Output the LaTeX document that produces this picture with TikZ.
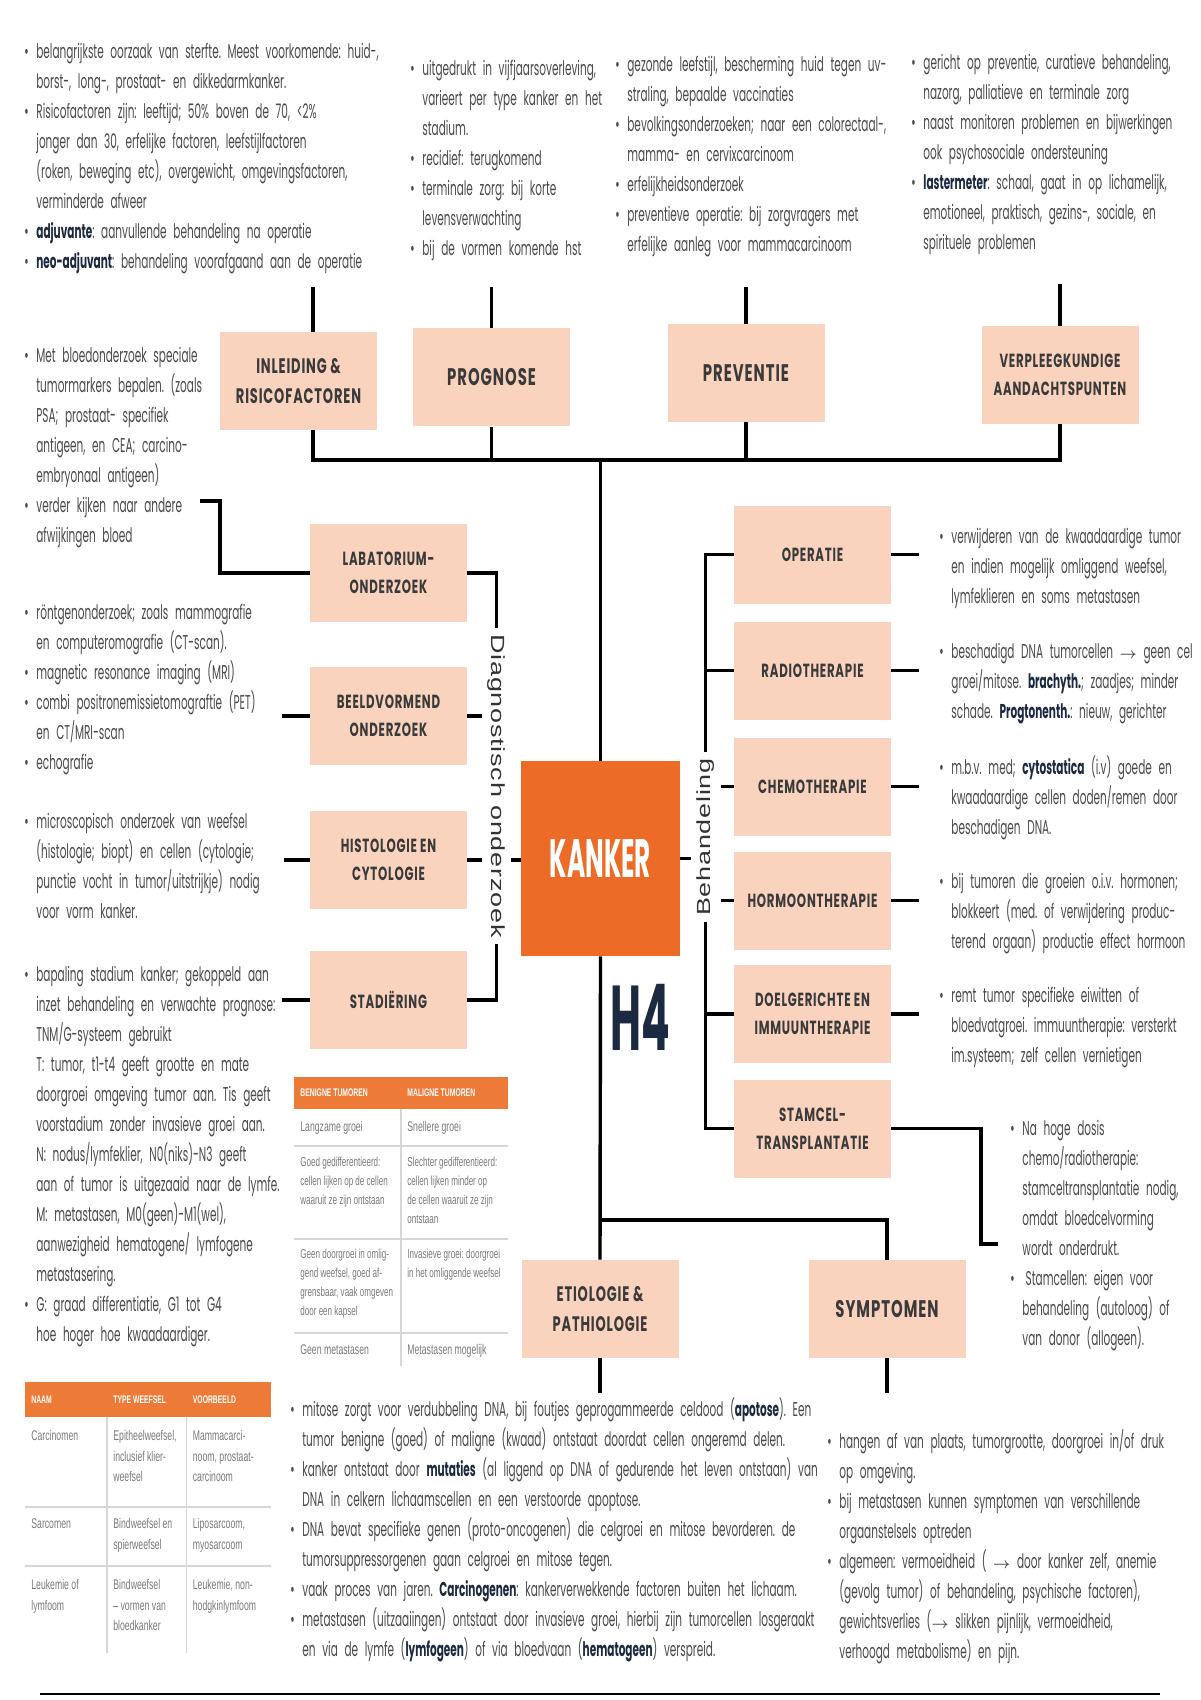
\documentclass[tikz,border=0pt]{standalone}
\usepackage{fontspec}
\usepackage{graphicx}
\usepackage{amsmath}
\usepackage{bm}
\usetikzlibrary{calc,positioning}
\setmainfont{Poppins}[FakeStretch=0.525]
\newfontfamily\kopfont{Poppins}[FakeStretch=0.62,LetterSpace=4]
\newfontfamily\grootfont{Poppins}[FakeStretch=0.46]
\newfontfamily\zijfont{Liberation Sans}[FakeStretch=1.42,LetterSpace=4]
\newfontfamily\tabfont{Liberation Sans}[FakeStretch=0.62]
\definecolor{perzik}{HTML}{F9D3BE}
\definecolor{oranje}{HTML}{EC6B27}
\definecolor{tabeloranje}{HTML}{EE7A37}
\definecolor{grijstekst}{HTML}{4A4A4A}
\definecolor{kopgrijs}{HTML}{3A3A3A}
\definecolor{marine}{HTML}{1B2A40}
\definecolor{tabellijn}{HTML}{D6D6D6}
\definecolor{tabtekst}{HTML}{7A7A7A}
\newcommand{\bul}{\par\noindent\makebox[6pt][l]{\textbullet}}
\newcommand{\nl}{\par\noindent\hspace*{6pt}}
\newcommand{\vet}[1]{{\bfseries\color{marine}#1}}
\newcommand{\pijl}{\scalebox{0.75}{$\bm{\rightarrow}$}}
\frenchspacing
\tikzset{
  kop/.style={
    fill=perzik,
    minimum width=78.5pt,
    minimum height=49pt,
    align=center,
    inner sep=2pt,
    text=kopgrijs,
    font=\kopfont\bfseries\fontsize{9.5}{14}\selectfont
  },
  kopgroot/.style={
    kop,
    font=\kopfont\bfseries\fontsize{12}{15}\selectfont
  },
  kopmidden/.style={
    kop,
    font=\kopfont\bfseries\fontsize{10.5}{15}\selectfont
  },
  lijn/.style={
    line width=1.7pt
  },
  tekst/.style={
    anchor=north west,
    inner sep=0pt,
    text width=#1,
    align=left,
    text=grijstekst,
    font=\fontsize{10}{15}\selectfont
  },
  tekst/.default=230pt,
  zij/.style={
    fill=white,
    inner sep=3pt,
    text=black!80,
    font=\zijfont\fontsize{9.5}{10}\selectfont
  },
  tabkop/.style={
    anchor=west,
    inner sep=0pt,
    text=white,
    font=\tabfont\bfseries\fontsize{5.5}{7}\selectfont
  },
  tabcel/.style={
    anchor=north west,
    inner sep=0pt,
    align=left,
    text=tabtekst,
    font=\tabfont\fontsize{7}{10.3}\selectfont
  }
}

\begin{document}
\begin{tikzpicture}[x=0.5pt,y=-0.5pt]
\fill[white] (0,0) rectangle (1200,1700);
\useasboundingbox (0,0) rectangle (1200,1700);

% boxes
\node[kopmidden] (inl) at (298.5,381) {INLEIDING \&\\RISICOFACTOREN};
\node[kopgroot] (prog) at (491.5,377.5) {PROGNOSE};
\node[kopgroot] (prev) at (746,373) {PREVENTIE};
\node[kop] (verpl) at (1060,375) {VERPLEEGKUNDIGE\\AANDACHTSPUNTEN};

\node[fill=oranje, minimum width=79.5pt, minimum height=97.5pt, text=white, font=\grootfont\bfseries\fontsize{27}{27}\selectfont] (kanker) at (600.5,858.5) {KANKER};
\node[text=marine, font=\grootfont\bfseries\fontsize{46}{46}\selectfont] (hvier) at (640,1017) {H4};

\node[kop] (lab) at (388.5,573) {LABATORIUM-\\ONDERZOEK};
\node[kop] (beeld) at (388.5,716) {BEELDVORMEND\\ONDERZOEK};
\node[kop] (histo) at (388.5,860) {HISTOLOGIE EN\\CYTOLOGIE};
\node[kop] (stad) at (388.5,1000) {STADIËRING};

\node[kop] (oper) at (812.5,554.5) {OPERATIE};
\node[kop] (radio) at (812.5,670.5) {RADIOTHERAPIE};
\node[kop] (chemo) at (812.5,786.5) {CHEMOTHERAPIE};
\node[kop] (hormoon) at (812.5,900.5) {HORMOONTHERAPIE};
\node[kop] (doel) at (812.5,1014) {DOELGERICHTE EN\\IMMUUNTHERAPIE};
\node[kop] (stamcel) at (812.5,1128.5) {STAMCEL-\\TRANSPLANTATIE};

\node[kopmidden] (etio) at (600,1309) {ETIOLOGIE \&\\PATHIOLOGIE};
\node[kopgroot] (sympt) at (887,1309) {SYMPTOMEN};

% connectors
\coordinate (t1) at (313,287);
\coordinate (t2) at (491.5,287);
\coordinate (t3) at (746,287);
\coordinate (t4) at (1060,284);
\coordinate (bl) at (313,460);
\coordinate (br) at (1060,460);
\draw[lijn] (t1) -- (t1 |- inl.north);
\draw[lijn] (t2) -- (prog.north);
\draw[lijn] (t3) -- (prev.north);
\draw[lijn] (t4) -- (verpl.north);
\draw[lijn] (inl.south -| bl) -- (bl) -- (br) -- (verpl.south);
\draw[lijn] (prog.south) -- (prog.south |- bl);
\draw[lijn] (prev.south) -- (prev.south |- bl);
\draw[lijn] (kanker.north |- bl) -- (kanker.north);

\coordinate (diag) at (496.5,573);
\draw[lijn] (lab.east) -- (lab.east -| diag) -- (stad.east -| diag) -- (stad.east);
\draw[lijn] (beeld.east) -- (beeld.east -| diag);
\draw[lijn] (histo.east) -- (histo.east -| diag) -- (histo.east -| kanker.west);
\node[zij, rotate=-90] (diagtekst) at (496.5,786) {Diagnostisch onderzoek};

\coordinate (beh) at (705.7,554.5);
\draw[lijn] (oper.west) -- (oper.west -| beh) -- (stamcel.west -| beh) -- (stamcel.west);
\draw[lijn] (radio.west) -- (radio.west -| beh);
\draw[lijn] (chemo.west) -- (chemo.west -| beh);
\draw[lijn] (hormoon.west) -- (hormoon.west -| beh);
\draw[lijn] (doel.west) -- (doel.west -| beh);
\draw[lijn] (kanker.east) -- (kanker.east -| beh);
\node[zij, rotate=90] (behtekst) at (705.7,837) {Behandeling};

\draw[lijn] (oper.east) -- ++(28,0);
\draw[lijn] (radio.east) -- ++(28,0);
\draw[lijn] (chemo.east) -- ++(28,0);
\draw[lijn] (hormoon.east) -- ++(28,0);
\draw[lijn] (doel.east) -- ++(28,0);

\coordinate (stamhoek) at (981,1244);
\draw[lijn] (stamcel.east) -- (stamcel.east -| stamhoek) -- (stamhoek) -- ++(17,0);

\coordinate (labhoek) at (220,501);
\draw[lijn] (lab.west) -- (lab.west -| labhoek) -- (labhoek) -- ++(-20,0);
\draw[lijn] (beeld.west) -- ++(-28,0);
\draw[lijn] (histo.west) -- ++(-26,0);
\draw[lijn] (stad.west) -- ++(-28,0);

\coordinate (tak) at (601,1220);
\draw[lijn] (kanker.south) -- (etio.north);
\draw[lijn] (tak) -- (tak -| sympt.north) -- (sympt.north);
\draw[lijn] (etio.south) -- ++(0,35);
\draw[lijn] (sympt.south) -- ++(0,35);

\draw[line width=1.2pt] (40,1694) -- (1160,1694);

% texts
\node[tekst=330pt] (tinl) at (24,28) {%
\bul belangrijkste oorzaak van sterfte. Meest voorkomende: huid-,
\nl borst-, long-, prostaat- en dikkedarmkanker.
\bul Risicofactoren zijn: leeftijd; 50\% boven de 70, <2\%
\nl jonger dan 30, erfelijke factoren, leefstijlfactoren
\nl (roken, beweging etc), overgewicht, omgevingsfactoren,
\nl verminderde afweer
\bul \vet{adjuvante}: aanvullende behandeling na operatie
\bul \vet{neo-adjuvant}: behandeling voorafgaand aan de operatie};

\node[tekst] (tprog) at (410,45) {%
\bul uitgedrukt in vijfjaarsoverleving,
\nl varieert per type kanker en het
\nl stadium.
\bul recidief: terugkomend
\bul terminale zorg: bij korte
\nl levensverwachting
\bul bij de vormen komende hst};

\node[tekst] (tprev) at (615,41) {%
\bul gezonde leefstijl, bescherming huid tegen uv-
\nl straling, bepaalde vaccinaties
\bul bevolkingsonderzoeken; naar een colorectaal-,
\nl mamma- en cervixcarcinoom
\bul erfelijkheidsonderzoek
\bul preventieve operatie: bij zorgvragers met
\nl erfelijke aanleg voor mammacarcinoom};

\node[tekst] (tverpl) at (911,39) {%
\bul gericht op preventie, curatieve behandeling,
\nl nazorg, palliatieve en terminale zorg
\bul naast monitoren problemen en bijwerkingen
\nl ook psychosociale ondersteuning
\bul \vet{lastermeter}: schaal, gaat in op lichamelijk,
\nl emotioneel, praktisch, gezins-, sociale, en
\nl spirituele problemen};

\node[tekst] (tlab) at (24,332) {%
\bul Met bloedonderzoek speciale
\nl tumormarkers bepalen. (zoals
\nl PSA; prostaat- specifiek
\nl antigeen, en CEA; carcino-
\nl embryonaal antigeen)
\bul verder kijken naar andere
\nl afwijkingen bloed};

\node[tekst] (tbeeld) at (24,589) {%
\bul röntgenonderzoek; zoals mammografie
\nl en computeromografie (CT-scan).
\bul magnetic resonance imaging (MRI)
\bul combi positronemissietomograftie (PET)
\nl en CT/MRI-scan
\bul echografie};

\node[tekst] (thisto) at (24,798) {%
\bul microscopisch onderzoek van weefsel
\nl (histologie; biopt) en cellen (cytologie;
\nl punctie vocht in tumor/uitstrijkje) nodig
\nl voor vorm kanker.};

\node[tekst] (tstad) at (24,951) {%
\bul bapaling stadium kanker; gekoppeld aan
\nl inzet behandeling en verwachte prognose:
\nl TNM/G-systeem gebruikt
\nl T: tumor, t1-t4 geeft grootte en mate
\nl doorgroei omgeving tumor aan. Tis geeft
\nl voorstadium zonder invasieve groei aan.
\nl N: nodus/lymfeklier, N0(niks)-N3 geeft
\nl aan of tumor is uitgezaaid naar de lymfe.
\nl M: metastasen, M0(geen)-M1(wel),
\nl aanwezigheid hematogene/ lymfogene
\nl metastasering.
\bul G: graad differentiatie, G1 tot G4
\nl hoe hoger hoe kwaadaardiger.};

\node[tekst] (toper) at (939,513) {%
\bul verwijderen van de kwaadaardige tumor
\nl en indien mogelijk omliggend weefsel,
\nl lymfeklieren en soms metastasen};

\node[tekst] (tradio) at (939,628) {%
\bul beschadigd DNA tumorcellen \pijl{} geen cel
\nl groei/mitose. \vet{brachyth.}; zaadjes; minder
\nl schade. \vet{Progtonenth.}: nieuw, gerichter};

\node[tekst] (tchemo) at (939,744) {%
\bul m.b.v. med; \vet{cytostatica} (i.v) goede en
\nl kwaadaardige cellen doden/remen door
\nl beschadigen DNA.};

\node[tekst] (thorm) at (939,858) {%
\bul bij tumoren die groeien o.i.v. hormonen;
\nl blokkeert (med. of verwijdering produc-
\nl terend orgaan) productie effect hormoon};

\node[tekst] (tdoel) at (939,972) {%
\bul remt tumor specifieke eiwitten of
\nl bloedvatgroei. immuuntherapie: versterkt
\nl im.systeem; zelf cellen vernietigen};

\node[tekst] (tstam) at (1010,1105) {%
\bul Na hoge dosis
\nl chemo/radiotherapie:
\nl stamceltransplantatie nodig,
\nl omdat bloedcelvorming
\nl wordt onderdrukt.
\bul \,Stamcellen: eigen voor
\nl behandeling (autoloog) of
\nl van donor (allogeen).};

\node[tekst=320pt] (tetio) at (290,1386) {%
\bul mitose zorgt voor verdubbeling DNA, bij foutjes geprogammeerde celdood (\vet{apotose}). Een
\nl tumor benigne (goed) of maligne (kwaad) ontstaat doordat cellen ongeremd delen.
\bul kanker ontstaat door \vet{mutaties} (al liggend op DNA of gedurende het leven ontstaan) van
\nl DNA in celkern lichaamscellen en een verstoorde apoptose.
\bul DNA bevat specifieke genen (proto-oncogenen) die celgroei en mitose bevorderen. de
\nl tumorsuppressorgenen gaan celgroei en mitose tegen.
\bul vaak proces van jaren. \vet{Carcinogenen}: kankerverwekkende factoren buiten het lichaam.
\bul metastasen (uitzaaiingen) ontstaat door invasieve groei, hierbij zijn tumorcellen losgeraakt
\nl en via de lymfe (\vet{lymfogeen}) of via bloedvaan (\vet{hematogeen}) verspreid.};

\node[tekst] (tsympt) at (827,1418) {%
\bul hangen af van plaats, tumorgrootte, doorgroei in/of druk
\nl op omgeving.
\bul bij metastasen kunnen symptomen van verschillende
\nl orgaanstelsels optreden
\bul algemeen: vermoeidheid ( \pijl{} door kanker zelf, anemie
\nl (gevolg tumor) of behandeling, psychische factoren),
\nl gewichtsverlies (\pijl{} slikken pijnlijk, vermoeidheid,
\nl verhoogd metabolisme) en pijn.};

% table benigne / maligne
\fill[tabeloranje] (294,1077) rectangle (508,1109);
\draw[tabellijn, line width=0.6pt] (401,1109) -- (401,1366);
\draw[tabellijn, line width=0.6pt] (294,1146) -- (508,1146) (294,1239) -- (508,1239) (294,1333) -- (508,1333);
\node[tabkop] (bk1) at (300,1093) {BENIGNE TUMOREN};
\node[tabkop] (bk2) at (407,1093) {MALIGNE TUMOREN};
\node[tabcel] (b11) at (300,1121) {Langzame groei};
\node[tabcel] (b12) at (407,1121) {Snellere groei};
\node[tabcel, font=\tabfont\fontsize{6.5}{9.5}\selectfont] (b21) at (300,1157) {Goed gedifferentieerd:\\cellen lijken op de cellen\\waaruit ze zijn ontstaan};
\node[tabcel, font=\tabfont\fontsize{6.5}{9.5}\selectfont] (b22) at (407,1157) {Slechter gedifferentieerd:\\cellen lijken minder op\\de cellen waaruit ze zijn\\ontstaan};
\node[tabcel, font=\tabfont\fontsize{6.5}{9.5}\selectfont] (b31) at (300,1249) {Geen doorgroei in omlig-\\gend weefsel, goed af-\\grensbaar, vaak omgeven\\door een kapsel};
\node[tabcel, font=\tabfont\fontsize{6.5}{9.5}\selectfont] (b32) at (407,1249) {Invasieve groei: doorgroei\\in het omliggende weefsel};
\node[tabcel] (b41) at (300,1344) {Geen metastasen};
\node[tabcel] (b42) at (407,1344) {Metastasen mogelijk};

% table naam / weefsel / voorbeeld
\fill[tabeloranje] (25,1382) rectangle (271,1417);
\draw[tabellijn, line width=0.6pt] (107,1417) -- (107,1653) (186.5,1417) -- (186.5,1653);
\draw[tabellijn, line width=0.6pt] (25,1507) -- (271,1507) (25,1566) -- (271,1566);
\node[tabkop] (nk1) at (31,1400) {NAAM};
\node[tabkop] (nk2) at (113,1400) {TYPE WEEFSEL};
\node[tabkop] (nk3) at (192.5,1400) {VOORBEELD};
\node[tabcel] (n11) at (31,1430) {Carcinomen};
\node[tabcel] (n12) at (113,1430) {Epitheelweefsel,\\inclusief klier-\\weefsel};
\node[tabcel] (n13) at (192.5,1430) {Mammacarci-\\noom, prostaat-\\carcinoom};
\node[tabcel] (n21) at (31,1518) {Sarcomen};
\node[tabcel] (n22) at (113,1518) {Bindweefsel en\\spierweefsel};
\node[tabcel] (n23) at (192.5,1518) {Liposarcoom,\\myosarcoom};
\node[tabcel] (n31) at (31,1579) {Leukemie of\\lymfoom};
\node[tabcel] (n32) at (113,1579) {Bindweefsel\\– vormen van\\bloedkanker};
\node[tabcel] (n33) at (192.5,1579) {Leukemie, non-\\hodgkinlymfoom};
\end{tikzpicture}
\end{document}
